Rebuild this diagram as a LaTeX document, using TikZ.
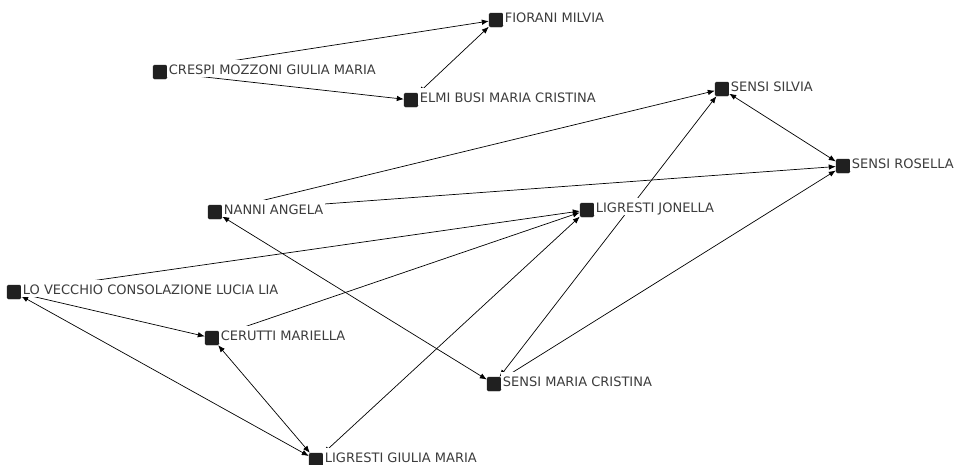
\documentclass[tikz,border=0pt]{standalone}
\usepackage{fontspec}
\setmainfont{DejaVu Sans}
\usetikzlibrary{positioning,arrows.meta}
\definecolor{boxgray}{HTML}{202020}
\definecolor{namegray}{HTML}{3C3C3C}

\begin{document}
\begin{tikzpicture}[x=1pt, y=-1pt,
  personbox/.style={rectangle, fill=boxgray, draw=boxgray, rounded corners=1.5pt, minimum size=14pt, inner sep=0pt},
  personname/.style={fill=white, inner sep=1.5pt, text height=13.5pt, text depth=0.5pt, text=namegray,
    font=\fontsize{13}{15}\selectfont, anchor=base west, yshift=-2.5pt},
  link/.style={{Latex[length=7pt,width=5.5pt]}-{Latex[length=7pt,width=5.5pt]}, line width=0.7pt, black}]
  \newcommand\drawname[2]{
    \node[personname] (#1-n) at (#1.east) {#2};
  }

  \useasboundingbox (0,0) rectangle (954,464);

  \node[personbox] (fiorani) at (496,20) {};
  \node[personbox] (crespi) at (160,72) {};
  \node[personbox] (elmi) at (411,100) {};
  \node[personbox] (silvia) at (722,89) {};
  \node[personbox] (rosella) at (843,166) {};
  \node[personbox] (nanni) at (215,212) {};
  \node[personbox] (jonella) at (587,210) {};
  \node[personbox] (vecchio) at (14,292) {};
  \node[personbox] (cerutti) at (212,338) {};
  \node[personbox] (smc) at (494,384) {};
  \node[personbox] (giulia) at (316,460) {};
  %
  \draw[link] (crespi) -- (fiorani);
  \draw[link] (crespi) -- (elmi);
  \draw[link] (elmi) -- (fiorani);
  \draw[link] (nanni) -- (silvia);
  \draw[link] (nanni) -- (rosella);
  \draw[link] (silvia) -- (rosella);
  \draw[link] (smc) -- (silvia);
  \draw[link] (smc) -- (rosella);
  \draw[link] (nanni) -- (smc);
  \draw[link] (vecchio) -- (jonella);
  \draw[link] (cerutti) -- (jonella);
  \draw[link] (giulia) -- (jonella);
  \draw[link] (vecchio) -- (cerutti);
  \draw[link] (vecchio) -- (giulia);
  \draw[link] (cerutti) -- (giulia);
  %
  \drawname{fiorani}{FIORANI MILVIA}
  \drawname{crespi}{CRESPI MOZZONI GIULIA MARIA}
  \drawname{elmi}{ELMI BUSI MARIA CRISTINA}
  \drawname{silvia}{SENSI SILVIA}
  \drawname{rosella}{SENSI ROSELLA}
  \drawname{nanni}{NANNI ANGELA}
  \drawname{jonella}{LIGRESTI JONELLA}
  \drawname{vecchio}{LO VECCHIO CONSOLAZIONE LUCIA LIA}
  \drawname{cerutti}{CERUTTI MARIELLA}
  \drawname{smc}{SENSI MARIA CRISTINA}
  \drawname{giulia}{LIGRESTI GIULIA MARIA}
\end{tikzpicture}
\end{document}
